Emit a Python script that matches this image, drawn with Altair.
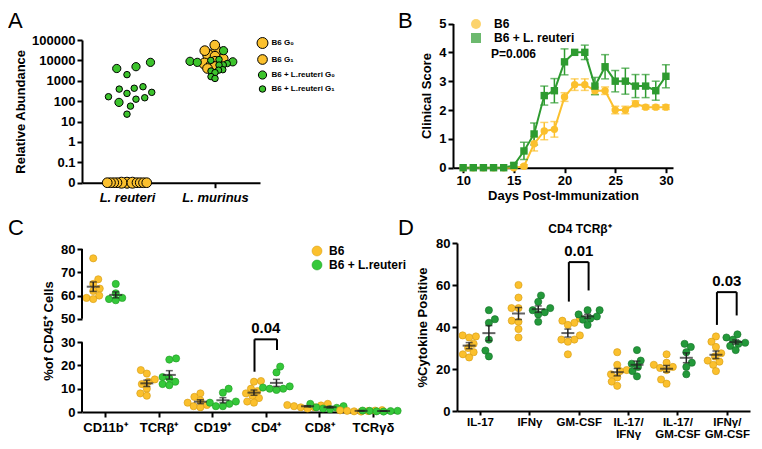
import math
import altair as alt
import pandas as pd

W, H, M = 746, 433, 8
def vx(x): return x - M
def vy(y): return y - M

FONT = "Liberation Sans"
YEL = "#FBC02D"
YEL_EDGE = "#D49A12"
GRN_A = "#3CC32C"
GRN_B = "#2E9B30"
GRN_C = "#35C83A"
GRN_C_EDGE = "#1F9A22"
GRN_D = "#23993A"
GRN_D_EDGE = "#16702A"

# ---------------- data ----------------
A_species = ["L. reuteri", "L. murinus"]
A_groups = ["B6 G₀", "B6 G₁", "B6 + L.reuteri G₀", "B6 + L.reuteri G₁"]
A_reu_b6_g0 = [0, 0, 0]
A_reu_b6_g1 = [0, 0, 0, 0, 0, 0, 0, 0]
A_reu_lr_g0 = [8000, 4900, 4000, 87]
A_reu_lr_g1 = [2000, 510, 430, 390, 270, 240, 165, 147, 125, 57, 23]
A_mur_b6_g0 = [30000, 18000, 7000]
A_mur_b6_g1 = [56000, 30000, 16000, 12000, 9000, 6000, 5000, 4000]
A_mur_lr_g0 = [30000, 9000, 8500, 8000]
A_mur_lr_g1 = [11000, 10000, 7000, 6000, 5900, 3500, 3300, 3000, 2500, 1600, 1300]

B_groups = ["B6", "B6 + L. reuteri"]
B_days = list(range(10, 31))
B_b6_mean = [0, 0, 0, 0, 0, 0, 0.05, 0.83, 1.27, 1.33, 2.45, 2.88, 2.88, 2.67, 2.67, 2.0, 2.0, 2.22, 2.1, 2.1, 2.1]
B_b6_sem = [0, 0, 0, 0, 0, 0, 0.05, 0.25, 0.3, 0.27, 0.15, 0.2, 0.2, 0.12, 0.13, 0.13, 0.13, 0.1, 0.07, 0.07, 0.08]
B_lr_mean = [0, 0, 0, 0, 0, 0.08, 0.58, 1.17, 2.5, 2.67, 3.67, 4.0, 4.0, 2.83, 3.5, 3.0, 3.0, 2.83, 2.83, 2.67, 3.17]
B_lr_sem = [0, 0, 0, 0, 0, 0.08, 0.3, 0.38, 0.33, 0.42, 0.45, 0, 0.25, 0.3, 0.42, 0.37, 0.45, 0.4, 0.4, 0.33, 0.4]

C_groups = ["B6", "B6 + L.reuteri"]
C_cats = ["CD11b⁺", "TCRβ⁺", "CD19⁺", "CD4⁺", "CD8⁺", "TCRγδ"]
C_b6 = [[76, 67, 65, 63, 62, 60, 59, 58.5], [18, 16.5, 14, 13, 12, 10, 8, 7],
        [8, 6.5, 5, 4, 3, 2.5, 2], [13.3, 13, 10, 9, 8, 7, 6, 4.5, 4],
        [3.5, 3, 2.8, 2.5, 2, 2, 1.5], [0.8, 0.7, 0.6, 0.5, 0.4, 0.3, 0.2]]
C_lr = [[65, 61, 59, 58.5, 58], [23, 22.5, 15, 14.5, 13, 12, 11.5],
        [10, 8.3, 4.5, 4, 3.5, 2.5, 2.5], [19.5, 17, 11, 10.5, 10, 10, 9.5],
        [3.5, 2.5, 2, 1.5, 1.2, 1.8], [0.6, 0.5, 0.5, 0.4, 0.3, 0.2]]
C_sig_cat = [3]
C_sig_top = [31.2]
C_sig_left = [17.3]
C_sig_right = [26.6]
C_sig_text = ["0.04"]

D_cats = ["IL-17", "IFNγ", "GM-CSF", "IL-17/ IFNγ", "IL-17/ GM-CSF", "IFNγ/ GM-CSF"]
D_b6 = [[36, 35.5, 35, 32, 30, 28, 27, 25.5], [60, 54, 49, 49, 43, 42.5, 39, 35],
        [44, 43, 42, 41, 36, 34, 34, 33, 27], [28, 22, 19.5, 19, 17.5, 16, 14, 12],
        [27, 23, 22, 21, 20.5, 19.5, 15, 13], [35.5, 33, 30.5, 27.5, 26, 24, 23.5, 22, 19]]
D_lr = [[48, 43.7, 42, 34, 28.8, 26], [55, 52, 49, 48, 47, 46, 42.5],
        [48, 48, 46, 45, 44, 43.5, 41], [29, 24, 22.5, 21, 19, 16.5],
        [32, 30.5, 28, 23, 21, 17.5], [36.5, 35, 34, 32.5, 32, 31, 29]]
D_sig_cat = [2, 5]
D_sig_top = [70.9, 56.6]
D_sig_left = [52.1, 41]
D_sig_right = [57.4, 45.5]
D_sig_text = ["0.01", "0.03"]


# ---------------- helpers ----------------
def beeswarm(ypix, radii, factors, step=0.25):
    n = len(ypix)
    order = sorted(range(n), key=lambda i: (ypix[i], -radii[i]))
    placed, out = [], [0.0] * n
    for rank, i in enumerate(order):
        y, r, f = ypix[i], radii[i], factors[i]
        k = 0
        while True:
            if k == 0:
                cands = [0.0]
            elif rank % 2 == 0:
                cands = [k * step, -k * step]
            else:
                cands = [-k * step, k * step]
            found = None
            for c in cands:
                if all((c - px) ** 2 + (y - py) ** 2 >= ((r + pr) * f) ** 2 for px, py, pr in placed):
                    found = c
                    break
            if found is not None:
                break
            k += 1
        placed.append((found, y, r))
        out[i] = found
    return out


def stats(vals):
    n = len(vals)
    m = sum(vals) / n
    sd = (sum((v - m) ** 2 for v in vals) / (n - 1)) ** 0.5
    return m, sd / n ** 0.5


def lab_array_expr(labels):
    parts = []
    for l in labels:
        lines = l.split(" ") if "/" in l else [l]
        parts.append("[" + ",".join("'" + s + "'" for s in lines) + "]")
    return "[" + ",".join(parts) + "][datum.value]"


# ---------------- Panel A ----------------
A_xs = alt.Scale(domain=[-0.511, 1.511], range=[vx(82), vx(260)])
A_ys = alt.Scale(domain=[-2, 5], range=[vy(182.7), vy(40)])
A_px_dec = (182.7 - 40) / 7
A_px_unit = 178 / 2.022
A_sets = [[A_reu_b6_g0, A_reu_b6_g1, A_reu_lr_g0, A_reu_lr_g1],
          [A_mur_b6_g0, A_mur_b6_g1, A_mur_lr_g0, A_mur_lr_g1]]
A_spread = [1.25, 0.6]
rowsA = []
for s, sets in enumerate(A_sets):
    vals, grps, rads, facs = [], [], [], []
    for g, arr in enumerate(sets):
        for v in arr:
            vals.append(v); grps.append(g); rads.append(6 if g % 2 == 0 else 3.5)
            facs.append(0.45 if v == 0 else A_spread[s])
    ly = [math.log10(max(v, 0.01)) for v in vals]
    dx = beeswarm([l * A_px_dec for l in ly], rads, facs)
    for v, l, g, d in zip(vals, ly, grps, dx):
        rowsA.append(dict(species=s, group=A_groups[g], value=v, ly=l, x=s + d / A_px_unit))
dfA = pd.DataFrame(rowsA)

legA = alt.Legend(title=None, orient="none", legendX=vx(256.5), legendY=vy(37), labelFontSize=8,
                  labelFont=FONT, labelFontWeight="bold", symbolStrokeColor="black", symbolStrokeWidth=1,
                  rowPadding=1, labelOffset=3, padding=0)
panelA = alt.Chart(dfA).mark_circle(stroke="black", strokeWidth=1, opacity=1).encode(
    x=alt.X("x:Q", scale=A_xs, axis=alt.Axis(orient="bottom", offset=vy(182.7) - H, values=[0, 1],
            labelExpr="datum.value == 0 ? 'L. reuteri' : 'L. murinus'", labelFontStyle="italic",
            labelFontSize=13, title=None, labelPadding=4)),
    y=alt.Y("ly:Q", scale=A_ys, axis=alt.Axis(orient="left", offset=-vx(82), values=list(range(-2, 6)),
            labelExpr="datum.value == -2 ? '0' : datum.value == -1 ? '0.1' : format(pow(10, datum.value), 'd')",
            labelFontSize=13, title="Relative Abundance", titleFontSize=13, titlePadding=4)),
    color=alt.Color("group:N", scale=alt.Scale(domain=A_groups, range=[YEL, YEL, GRN_A, GRN_A]), legend=legA),
    size=alt.Size("group:N", scale=alt.Scale(domain=A_groups, range=[120, 42, 120, 42]), legend=legA),
)
panelA = alt.layer(panelA)

# ---------------- Panel B ----------------
B_xs = alt.Scale(domain=[9, 30.7], range=[vx(453), vx(673)])
B_ys = alt.Scale(domain=[0, 5], range=[vy(167.7), vy(23.5)])
B_cs = alt.Scale(domain=B_groups, range=[YEL, GRN_B])
rowsB, capsB = [], []
for gname, means, sems in ((B_groups[0], B_b6_mean, B_b6_sem), (B_groups[1], B_lr_mean, B_lr_sem)):
    for d, m, s in zip(B_days, means, sems):
        rowsB.append(dict(day=d, grp=gname, mean=m, sem=s, lo=m - s, hi=m + s))
        if s > 0:
            capsB.append(dict(day=d, grp=gname, v=m - s))
            capsB.append(dict(day=d, grp=gname, v=m + s))
dfB = pd.DataFrame(rowsB)
dfBcaps = pd.DataFrame(capsB)
B_xaxis = alt.Axis(orient="bottom", offset=vy(167.7) - H, values=[10, 15, 20, 25, 30],
                   labelFontSize=13, title="Days Post-Immunization", titleFontSize=13, titlePadding=2)
B_yaxis = alt.Axis(orient="left", offset=-vx(453), values=[0, 1, 2, 3, 4, 5],
                   labelFontSize=13, title="Clinical Score", titleFontSize=13, titlePadding=5)
legB = alt.Legend(title=None, orient="none", legendX=vx(470), legendY=vy(18), labelFontSize=12, labelFont=FONT,
                  labelFontWeight="bold", rowPadding=2, labelOffset=12, padding=0, symbolStrokeWidth=0)
def bx(): return alt.X("day:Q", scale=B_xs, axis=B_xaxis)
def by(f): return alt.Y(f, scale=B_ys, axis=B_yaxis)
def bc(): return alt.Color("grp:N", scale=B_cs, legend=legB)
bline = alt.Chart(dfB).mark_line(strokeWidth=2).encode(x=bx(), y=by("mean:Q"), color=bc())
berr = alt.Chart(dfB).transform_filter("datum.sem > 0").mark_rule(strokeWidth=1.5).encode(
    x=bx(), y=by("lo:Q"), y2="hi:Q", color=bc())
bcaps = alt.Chart(dfBcaps).mark_tick(orient="horizontal", size=8, thickness=1.5).encode(
    x=bx(), y=by("v:Q"), color=bc())
bpts = alt.Chart(dfB).mark_point(filled=True, size=55, opacity=1).encode(
    x=bx(), y=by("mean:Q"), color=bc(),
    shape=alt.Shape("grp:N", scale=alt.Scale(domain=B_groups, range=["circle", "square"]), legend=legB))
panelB = alt.layer(bline, berr, bcaps, bpts)

# ---------------- Panel C ----------------
def c_disp(v):
    return v if v <= 40 else v - 10

C_step = 315 / 5.88
C_ppu = 163 / 70
C_xs = alt.Scale(domain=[-0.43, 5.45], range=[vx(82), vx(397)])
C_ys = alt.Scale(domain=[0, 70], range=[vy(412), vy(249)])
C_off = [-0.22, 0.2]
rowsC, statsC = [], []
for i in range(len(C_cats)):
    for gi, (gname, vals) in enumerate(((C_groups[0], C_b6[i]), (C_groups[1], C_lr[i]))):
        disp = [c_disp(v) for v in vals]
        dx = beeswarm([d * C_ppu for d in disp], [4] * len(vals), [0.85] * len(vals))
        for v, d, x in zip(vals, disp, dx):
            rowsC.append(dict(grp=gname, val=v, y=d, x=i + C_off[gi] + x / C_step))
        m, se = stats(vals)
        statsC.append(dict(grp=gname, x=i + C_off[gi], m=c_disp(m), lo=c_disp(m - se), hi=c_disp(m + se)))
dfC = pd.DataFrame(rowsC)
dfCs = pd.DataFrame(statsC)
dfCcaps = pd.concat([dfCs.assign(v=dfCs["lo"]), dfCs.assign(v=dfCs["hi"])])
dfCaxis = pd.DataFrame({"x": [-0.43, -0.43], "y": [0, 40], "y2": [30, 70]})

C_yaxis = alt.Axis(orient="left", offset=-vx(82), values=[0, 10, 20, 30, 40, 50, 60, 70], domain=False,
                   labelExpr="datum.value <= 30 ? format(datum.value, 'd') : format(datum.value + 10, 'd')",
                   labelFontSize=13, title="%of CD45⁺ Cells", titleFontSize=13, titlePadding=5)
C_xaxis = alt.Axis(orient="bottom", offset=vy(412) - H, values=list(range(6)), labelExpr=lab_array_expr(C_cats),
                   labelFontSize=13, title=None, labelPadding=4)
def cx(): return alt.X("x:Q", scale=C_xs, axis=C_xaxis)
def cy(f): return alt.Y(f, scale=C_ys, axis=C_yaxis)
legC = alt.Legend(title=None, orient="none", legendX=vx(311), legendY=vy(245), labelFontSize=12, labelFont=FONT,
                  labelFontWeight="bold", rowPadding=2, labelOffset=6, padding=0, symbolStrokeWidth=0.5)
cpts = alt.Chart(dfC).mark_circle(size=52, opacity=1, strokeWidth=0.6).encode(
    x=cx(), y=cy("y:Q"),
    color=alt.Color("grp:N", scale=alt.Scale(domain=C_groups, range=[YEL, GRN_C]), legend=legC),
    stroke=alt.Stroke("grp:N", scale=alt.Scale(domain=C_groups, range=[YEL_EDGE, GRN_C_EDGE]), legend=None))
caxis = alt.Chart(dfCaxis).mark_rule(strokeWidth=2, color="black").encode(x=cx(), y=cy("y:Q"), y2="y2:Q")
cmean = alt.Chart(dfCs).mark_tick(orient="horizontal", size=13, thickness=2, color="#222").encode(
    x=cx(), y=cy("m:Q"))
cerr = alt.Chart(dfCs).mark_rule(strokeWidth=1.5, color="#222").encode(x=cx(), y=cy("lo:Q"), y2="hi:Q")
ccaps = alt.Chart(dfCcaps).mark_tick(orient="horizontal", size=7, thickness=1.5, color="#222").encode(
    x=cx(), y=cy("v:Q"))


def sig_frames(cats, tops, lefts, rights, texts, half=0.2):
    segs, labs = [], []
    for c, t, l, r, s in zip(cats, tops, lefts, rights, texts):
        segs.append(dict(x=c - half, x2=c + half, y=t, y2=t))
        segs.append(dict(x=c - half, x2=c - half, y=t, y2=l))
        segs.append(dict(x=c + half, x2=c + half, y=t, y2=r))
        labs.append(dict(x=c, y=t, t=s))
    return pd.DataFrame(segs), pd.DataFrame(labs)


dfCsig, dfCsigt = sig_frames(C_sig_cat, C_sig_top, C_sig_left, C_sig_right, C_sig_text, 0.21)
csig = alt.Chart(dfCsig).mark_rule(strokeWidth=2, color="black").encode(
    x=cx(), x2="x2:Q", y=cy("y:Q"), y2="y2:Q")
csigt = alt.Chart(dfCsigt).mark_text(font=FONT, fontWeight="bold", fontSize=15, baseline="bottom", dy=-3).encode(
    x=cx(), y=cy("y:Q"), text="t:N")
panelC = alt.layer(cpts, caxis, cerr, ccaps, cmean, csig, csigt)

# ---------------- Panel D ----------------
D_step = 293 / 5.936
D_ppu = 168 / 80
D_xs = alt.Scale(domain=[-0.466, 5.47], range=[vx(457), vx(750)])
D_ys = alt.Scale(domain=[0, 80], range=[vy(411), vy(243)])
D_off = [-0.22, 0.18]
rowsD, statsD = [], []
for i in range(len(D_cats)):
    for gi, (gname, vals) in enumerate(((C_groups[0], D_b6[i]), (C_groups[1], D_lr[i]))):
        dx = beeswarm([v * D_ppu for v in vals], [4] * len(vals), [0.85] * len(vals))
        for v, x in zip(vals, dx):
            rowsD.append(dict(grp=gname, y=v, x=i + D_off[gi] + x / D_step))
        m, se = stats(vals)
        statsD.append(dict(grp=gname, x=i + D_off[gi], m=m, lo=m - se, hi=m + se))
dfD = pd.DataFrame(rowsD)
dfDs = pd.DataFrame(statsD)
dfDcaps = pd.concat([dfDs.assign(v=dfDs["lo"]), dfDs.assign(v=dfDs["hi"])])
D_yaxis = alt.Axis(orient="left", offset=-vx(457), values=[0, 20, 40, 60, 80], labelFontSize=13,
                   title="%Cytokine Positive", titleFontSize=13, titlePadding=6)
D_xaxis = alt.Axis(orient="bottom", offset=vy(411) - H, values=list(range(6)), labelExpr=lab_array_expr(D_cats),
                   labelFontSize=11.5, title=None, labelPadding=1, labelLineHeight=12, tickSize=4)
def dx_(): return alt.X("x:Q", scale=D_xs, axis=D_xaxis)
def dy_(f): return alt.Y(f, scale=D_ys, axis=D_yaxis)
dpts = alt.Chart(dfD).mark_circle(size=52, opacity=1, strokeWidth=0.6).encode(
    x=dx_(), y=dy_("y:Q"),
    color=alt.Color("grp:N", scale=alt.Scale(domain=C_groups, range=[YEL, GRN_D]), legend=None),
    stroke=alt.Stroke("grp:N", scale=alt.Scale(domain=C_groups, range=[YEL_EDGE, GRN_D_EDGE]), legend=None))
dmean = alt.Chart(dfDs).mark_tick(orient="horizontal", size=13, thickness=2, color="#222").encode(
    x=dx_(), y=dy_("m:Q"))
derr = alt.Chart(dfDs).mark_rule(strokeWidth=1.5, color="#222").encode(x=dx_(), y=dy_("lo:Q"), y2="hi:Q")
dcaps = alt.Chart(dfDcaps).mark_tick(orient="horizontal", size=7, thickness=1.5, color="#222").encode(
    x=dx_(), y=dy_("v:Q"))
dfDsig, dfDsigt = sig_frames(D_sig_cat, D_sig_top, D_sig_left, D_sig_right, D_sig_text, 0.2)
dsig = alt.Chart(dfDsig).mark_rule(strokeWidth=2, color="black").encode(
    x=dx_(), x2="x2:Q", y=dy_("y:Q"), y2="y2:Q")
dsigt = alt.Chart(dfDsigt).mark_text(font=FONT, fontWeight="bold", fontSize=15, baseline="bottom", dy=-3).encode(
    x=dx_(), y=dy_("y:Q"), text="t:N")
panelD = alt.layer(dpts, derr, dcaps, dmean, dsig, dsigt)

# ---------------- annotations ----------------
one = pd.DataFrame({"k": [0]})
def label(txt, x, y, size, weight="normal", align="left", baseline="alphabetic"):
    return alt.Chart(one).mark_text(text=txt, font=FONT, fontSize=size, fontWeight=weight, align=align,
                                    baseline=baseline, color="black").encode(x=alt.value(x), y=alt.value(y))

letters = [label("A", vx(8), vy(28), 22), label("B", vx(398), vy(28), 22),
           label("C", vx(8), vy(235), 22), label("D", vx(398), vy(235), 22)]
extras = [label("P=0.006", vx(491), vy(54), 12, "bold", "left", "middle"),
          label("CD4 TCRβ⁺", vx(580), vy(229), 12, "bold", "center", "middle")]

chart = alt.layer(panelA, panelB, panelC, panelD, *letters, *extras).resolve_scale(
    x="independent", y="independent", color="independent", size="independent",
    shape="independent", stroke="independent"
).properties(
    width=W, height=H, autosize=alt.AutoSizeParams(type="none"), padding=0
).configure_view(stroke=None).configure_axis(
    grid=False, domainColor="black", domainWidth=2, tickColor="black", tickWidth=2, tickSize=5,
    labelFont=FONT, labelFontWeight="bold", labelColor="black", titleFont=FONT, titleFontWeight="bold",
    titleColor="black", labelOverlap=False, labelFlush=False, labelBound=False
)

chart.save("out.html", embed_options={"renderer": "svg", "actions": False})
